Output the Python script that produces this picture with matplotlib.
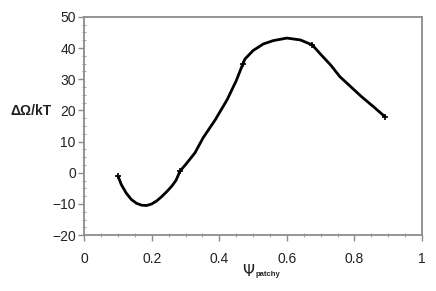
import matplotlib.pyplot as plt
from matplotlib.ticker import MultipleLocator

plt.rcParams["font.family"] = ["Liberation Sans", "DejaVu Sans"]

# values
psi = [0.10, 0.11, 0.125, 0.14, 0.155, 0.17, 0.185, 0.20, 0.215, 0.23, 0.245, 0.26,
       0.272, 0.284, 0.30, 0.328, 0.352, 0.388, 0.423, 0.45, 0.47, 0.476, 0.50,
       0.53, 0.56, 0.60, 0.64, 0.675, 0.70, 0.73, 0.757, 0.79, 0.82, 0.855, 0.89]
omega = [-1.0, -3.8, -6.6, -8.6, -9.8, -10.4, -10.5, -10.0, -9.0, -7.6, -6.0, -4.2,
         -2.4, 0.6, 2.6, 6.4, 11.2, 17.0, 23.4, 29.5, 35.0, 36.5, 39.2,
         41.3, 42.4, 43.2, 42.6, 41.0, 38.0, 34.5, 30.8, 27.5, 24.5, 21.3, 18.0]
# points with tick marks on the curve
mark_psi = [0.10, 0.284, 0.47, 0.675, 0.89]
mark_omega = [-1.0, 0.6, 35.0, 41.0, 18.0]

fig = plt.figure(figsize=(4.36, 2.91), dpi=100)
ax = fig.add_axes([0.193, 0.192, 0.775, 0.750])

ax.plot(psi, omega, color="black", lw=2.0, solid_capstyle="round", solid_joinstyle="round")
ax.plot(mark_psi, mark_omega, ls="none", marker="+", ms=5, mew=1.2, color="black")

ax.set_xlim(0, 1)
ax.set_ylim(-20, 50)
ax.xaxis.set_major_locator(MultipleLocator(0.2))
ax.yaxis.set_major_locator(MultipleLocator(10))
ax.xaxis.set_minor_locator(MultipleLocator(0.05))
ax.yaxis.set_minor_locator(MultipleLocator(2.5))
ax.xaxis.set_major_formatter(plt.FuncFormatter(lambda v, p: f"{v:g}"))

for s in ax.spines.values():
    s.set_color("#8c8c8c")
    s.set_linewidth(1.3)
ax.tick_params(which="major", direction="out", length=4, width=1, color="#8c8c8c",
               labelsize=10, labelcolor="#222222", pad=8)
ax.tick_params(axis="y", which="major", pad=2)
ax.tick_params(which="minor", direction="inout", length=3, width=0.8, color="#aaaaaa")
ax.tick_params(which="both", top=False, right=False)

fig.text(0.023, 0.62, "ΔΩ/kT", fontsize=10, fontweight="bold", ha="left", va="center",
         color="#222222")
fig.text(0.585, 0.07, r"$\Psi$", fontsize=11, family="DejaVu Serif", ha="right", va="center",
         color="#222222")
fig.text(0.585, 0.058, "patchy", fontsize=5.5, fontweight="bold", ha="left", va="center",
         color="#222222")

fig.savefig("out.png", dpi=100)
